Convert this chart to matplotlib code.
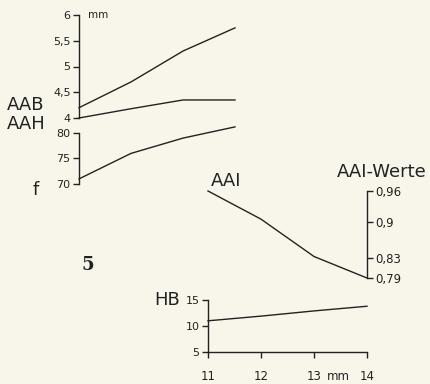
import numpy as np
import matplotlib.pyplot as plt

# Werte
x = [11, 12, 13, 14]
aab = [4.2, 4.7, 5.3, 5.75]
aah = [4.0, 4.18, 4.35, 4.35]
f = [71, 76, 79, 81.2]
aai = [0.96, 0.905, 0.832, 0.79]
hb = [11, 11.9, 12.9, 13.8]

W, H = 431, 384
bg = '#f8f6ea'
ink = '#222222'

plt.rcParams['font.family'] = 'DejaVu Sans'
fig = plt.figure(figsize=(W / 100, H / 100), dpi=100, facecolor=bg)


def px_axes(x0, x1, ytop, ybot):
    ax = fig.add_axes([x0 / W, 1 - ybot / H, (x1 - x0) / W, (ybot - ytop) / H])
    ax.patch.set_visible(False)
    for s in ax.spines.values():
        s.set_visible(False)
        s.set_color(ink)
        s.set_linewidth(1.0)
    ax.tick_params(colors=ink, labelsize=8, length=4, width=1.0, pad=2)
    ax.set_xticks([])
    return ax


def ftext(px, py, s, **kw):
    fig.text(px / W, 1 - py / H, s, color=ink, **kw)


# AAB / AAH
ax1 = px_axes(79, 235, 15, 118)
ax1.plot(x, aab, color=ink, lw=1.0, clip_on=False)
ax1.plot(x, aah, color=ink, lw=1.0, clip_on=False)
ax1.set_xlim(11, 14)
ax1.set_ylim(4, 6)
ax1.spines['left'].set_visible(True)
ax1.set_yticks([4, 4.5, 5, 5.5, 6])
ax1.set_yticklabels(['4', '4,5', '5', '5,5', '6'])

# f
ax2 = px_axes(79, 235, 133, 184)
ax2.plot(x, f, color=ink, lw=1.0, clip_on=False)
ax2.set_xlim(11, 14)
ax2.set_ylim(70, 80)
ax2.spines['left'].set_visible(True)
ax2.set_yticks([70, 75, 80])

# AAI
ax3 = px_axes(208, 367, 191, 278)
ax3.plot(x, aai, color=ink, lw=1.0, clip_on=False)
ax3.set_xlim(11, 14)
ax3.set_ylim(0.79, 0.96)
ax3.spines['right'].set_visible(True)
ax3.yaxis.tick_right()
ax3.set_yticks([0.79, 0.83, 0.9, 0.96])
ax3.set_yticklabels(['0,79', '0,83', '0,9', '0,96'])
ax3.tick_params(labelsize=8.5)

# HB
ax4 = px_axes(208, 367, 300, 352)
ax4.plot(x, hb, color=ink, lw=1.0, clip_on=False)
ax4.set_xlim(11, 14)
ax4.set_ylim(5, 15)
ax4.spines['left'].set_visible(True)
ax4.spines['bottom'].set_visible(True)
ax4.set_yticks([5, 10, 15])
ax4.set_xticks(x)
ax4.tick_params(axis='x', labelsize=8.5, pad=9)

ftext(7, 105, 'AAB', fontsize=13, va='center')
ftext(7, 124, 'AAH', fontsize=13, va='center')
ftext(33, 190, 'f', fontsize=13, va='center')
ftext(88, 15, 'mm', fontsize=7.5, va='center')
ftext(211, 181, 'AAI', fontsize=13, va='center')
ftext(337, 172, 'AAI-Werte', fontsize=13, va='center')
ftext(88, 265, '5', fontsize=13, va='center', ha='center',
      family='DejaVu Serif', fontweight='bold')
ftext(154, 300, 'HB', fontsize=13, va='center')
ftext(338, 376, 'mm', fontsize=8.5, va='center', ha='center')

fig.savefig('out.png', dpi=100, facecolor=bg)
